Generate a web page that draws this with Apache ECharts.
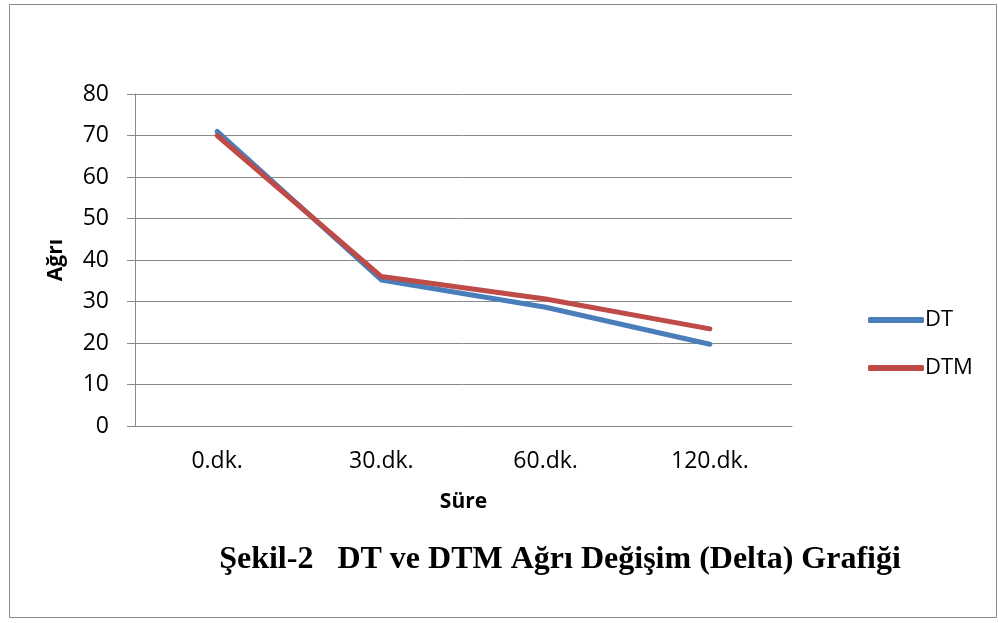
<!DOCTYPE html>
<html>
<head>
<meta charset="utf-8">
<script src="https://cdn.jsdelivr.net/npm/echarts@6/dist/echarts.min.js"></script>
<style>
html,body{margin:0;padding:0;background:#fff;}
#c{width:998px;height:623px;}
</style>
</head>
<body>
<div id="c"></div>
<script>
const categories = ['0.dk.', '30.dk.', '60.dk.', '120.dk.'];
const dtValues = [71, 35.2, 28.6, 19.7];
const dtmValues = [70, 36, 30.6, 23.4];
const seriesNames = ['DT', 'DTM'];
const yAxisTitle = 'Ağrı';
const xAxisTitle = 'Süre';
const chartTitle = 'Şekil-2   DT ve DTM Ağrı Değişim (Delta) Grafiği';

const chart = echarts.init(document.getElementById('c'), null, {renderer: 'canvas'});
const labelFont = '"Open Sans", sans-serif';
chart.setOption({
  animation: false,
  backgroundColor: '#fff',
  title: {
    text: chartTitle,
    left: 555, top: 539, textAlign: 'center',
    textStyle: {fontFamily: '"Liberation Serif", serif', fontWeight: 'bold', fontSize: 32, color: '#000'}
  },
  graphic: [{
    type: 'rect', shape: {x: 9.5, y: 4.5, width: 987, height: 613},
    style: {fill: 'none', stroke: '#8a8a8a', lineWidth: 1}, silent: true
  }],
  legend: {
    data: seriesNames,
    orient: 'vertical',
    left: 863, top: 303,
    icon: 'roundRect',
    itemWidth: 56, itemHeight: 6,
    itemGap: 24,
    textStyle: {fontFamily: labelFont, fontSize: 22, color: '#000', lineHeight: 24, padding: [0, 0, 0, -4]}
  },
  grid: {left: 135, right: 206, top: 94, bottom: 197, containLabel: false},
  xAxis: {
    type: 'category',
    data: categories,
    name: xAxisTitle,
    nameLocation: 'middle',
    nameGap: 66,
    nameTextStyle: {fontFamily: labelFont, fontWeight: 'bold', fontSize: 21, color: '#000'},
    axisLine: {lineStyle: {color: '#8a8a8a', width: 1}},
    axisTick: {show: false},
    axisLabel: {fontFamily: labelFont, fontSize: 23, color: '#000', margin: 24}
  },
  yAxis: {
    type: 'value',
    min: 0, max: 80, interval: 10,
    name: yAxisTitle,
    nameLocation: 'middle',
    nameGap: 68,
    nameRotate: 90,
    nameTextStyle: {fontFamily: labelFont, fontWeight: 'bold', fontSize: 21, color: '#000'},
    axisLine: {show: true, lineStyle: {color: '#8a8a8a', width: 1}},
    axisTick: {show: true, length: 8, lineStyle: {color: '#8a8a8a'}},
    axisLabel: {fontFamily: labelFont, fontSize: 23, color: '#000', margin: 26},
    splitLine: {lineStyle: {color: '#8a8a8a', width: 1}}
  },
  series: [
    {name: seriesNames[0], type: 'line', data: dtValues, symbol: 'none',
     lineStyle: {color: '#4a7ebb', width: 5, cap: 'round', join: 'round'}, itemStyle: {color: '#4a7ebb'}},
    {name: seriesNames[1], type: 'line', data: dtmValues, symbol: 'none',
     lineStyle: {color: '#be4b48', width: 5, cap: 'round', join: 'round'}, itemStyle: {color: '#be4b48'}}
  ]
});
</script>
</body>
</html>
